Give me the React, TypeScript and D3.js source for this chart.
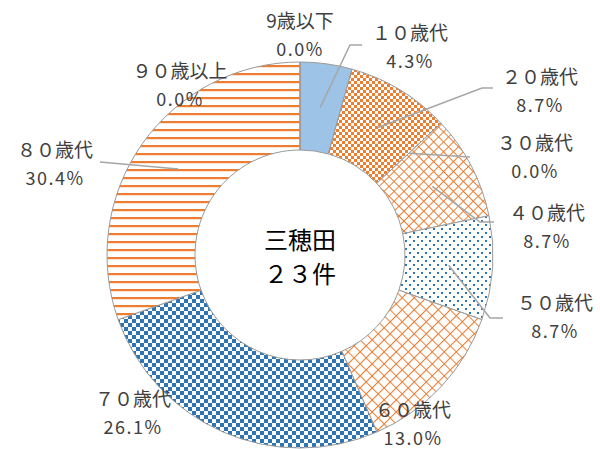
import React, { useEffect, useRef } from 'react';
import * as d3 from 'd3';

// age groups and counts (三穂田, 23 cases)
const categories = ['9歳以下', '１０歳代', '２０歳代', '３０歳代', '４０歳代', '５０歳代', '６０歳代', '７０歳代', '８０歳代', '９０歳以上'];
const counts = [0, 1, 2, 0, 2, 2, 3, 6, 7, 0];
const fills = ['#9DC3E6', '#9DC3E6', 'url(#chkO)', 'url(#dmS)', 'url(#dmS)', 'url(#dots)', 'url(#dmL)', 'url(#chkB)', 'url(#stripe)', 'url(#stripe)'];
const centerLines = ['三穂田', '２３件'];

// label placement (name line centre) and leader elbows
const labelPos = [[300, 19], [410, 31], [540, 75], [535, 141], [547, 211], [555, 301], [413, 408], [133, 397], [55, 148], [180, 69]];
const leaders: (number[][] | null)[] = [
    null,
    [[350, 45], [362, 45]],
    [[482, 88], [493, 88]],
    [[470, 157]],
    [[480, 222], [494, 222]],
    [[490, 318], [503, 318]],
    null,
    null,
    [[100, 162]],
    null,
];

const App = () => {
    const ref = useRef(null);

    useEffect(() => {
        const svg = d3.select(ref.current);
        svg.selectAll('*').remove();

        const W = 600, H = 449;
        const cx = 300, cy = 255, outerR = 193, innerR = 105;
        const orange = '#ED7D31', blue = '#2E75B6';
        const total = d3.sum(counts);

        // patterns
        const defs = svg.append('defs');
        const stripe = defs.append('pattern').attr('id', 'stripe').attr('patternUnits', 'userSpaceOnUse').attr('width', 8).attr('height', 8);
        stripe.append('rect').attr('width', 8).attr('height', 8).attr('fill', '#fff');
        stripe.append('rect').attr('y', 2).attr('width', 8).attr('height', 2.2).attr('fill', orange);

        const checker = (id, size, color) => {
            const p = defs.append('pattern').attr('id', id).attr('patternUnits', 'userSpaceOnUse').attr('width', size * 2).attr('height', size * 2);
            p.append('rect').attr('width', size * 2).attr('height', size * 2).attr('fill', '#fff');
            p.append('rect').attr('width', size).attr('height', size).attr('fill', color);
            p.append('rect').attr('x', size).attr('y', size).attr('width', size).attr('height', size).attr('fill', color);
        };
        checker('chkO', 3, orange);
        checker('chkB', 4, blue);

        const diamond = (id, size) => {
            const p = defs.append('pattern').attr('id', id).attr('patternUnits', 'userSpaceOnUse')
                .attr('width', size).attr('height', size).attr('patternTransform', 'rotate(45)');
            p.append('rect').attr('width', size).attr('height', size).attr('fill', '#fff');
            p.append('rect').attr('width', size).attr('height', 1).attr('fill', orange);
            p.append('rect').attr('width', 1).attr('height', size).attr('fill', orange);
        };
        diamond('dmS', 7);
        diamond('dmL', 8.5);

        const dots = defs.append('pattern').attr('id', 'dots').attr('patternUnits', 'userSpaceOnUse').attr('width', 8).attr('height', 8);
        dots.append('rect').attr('width', 8).attr('height', 8).attr('fill', '#fff');
        dots.append('rect').attr('x', 1).attr('y', 1).attr('width', 2).attr('height', 2).attr('fill', blue);
        dots.append('rect').attr('x', 5).attr('y', 5).attr('width', 2).attr('height', 2).attr('fill', blue);

        const pie = d3.pie<number>().sort(null).value(d => d);
        const arcs = pie(counts);
        const arc = d3.arc<any>().innerRadius(innerR).outerRadius(outerR);

        const g = svg.append('g').attr('transform', `translate(${cx},${cy})`);

        g.selectAll('path.slice')
            .data(arcs)
            .enter()
            .append('path')
            .attr('class', 'slice')
            .attr('d', arc)
            .attr('fill', (d, i) => fills[i])
            .attr('stroke', '#9a9a9a')
            .attr('stroke-width', 1);

        // leader lines from mid ring
        const lineR = (innerR + outerR) / 2;
        arcs.forEach((a, i) => {
            const pts = leaders[i];
            if (!pts) return;
            const mid = (a.startAngle + a.endAngle) / 2;
            const start = [cx + lineR * Math.sin(mid), cy - lineR * Math.cos(mid)];
            const path = d3.line()([start, ...pts] as [number, number][]);
            svg.append('path')
                .attr('d', path)
                .attr('fill', 'none')
                .attr('stroke', '#a6a6a6')
                .attr('stroke-width', 1.5);
        });

        // labels
        const font = "'Noto Sans CJK JP', 'Noto Sans', sans-serif";
        categories.forEach((name, i) => {
            const [x, y] = labelPos[i];
            svg.append('text')
                .attr('x', x).attr('y', y)
                .attr('text-anchor', 'middle')
                .attr('dominant-baseline', 'central')
                .attr('font-family', font)
                .attr('font-size', 19)
                .attr('fill', '#404040')
                .text(name);
            svg.append('text')
                .attr('x', x).attr('y', y + 29)
                .attr('text-anchor', 'middle')
                .attr('dominant-baseline', 'central')
                .attr('font-family', font)
                .attr('font-size', 18)
                .attr('letter-spacing', 1.5)
                .attr('fill', '#404040')
                .text((counts[i] / total * 100).toFixed(1) + '%');
        });

        // centre title
        centerLines.forEach((t, i) => {
            svg.append('text')
                .attr('x', cx).attr('y', cy - 17 + i * 34)
                .attr('text-anchor', 'middle')
                .attr('dominant-baseline', 'central')
                .attr('font-family', font)
                .attr('font-size', 24)
                .attr('fill', '#000')
                .text(t);
        });

        svg.attr('width', W).attr('height', H);
    }, []);

    return (
        <svg
            ref={ref}
            width={600}
            height={449}
            style={{ position: 'absolute', left: 0, top: 0, background: 'white' }}
        />
    );
};

export default App;
